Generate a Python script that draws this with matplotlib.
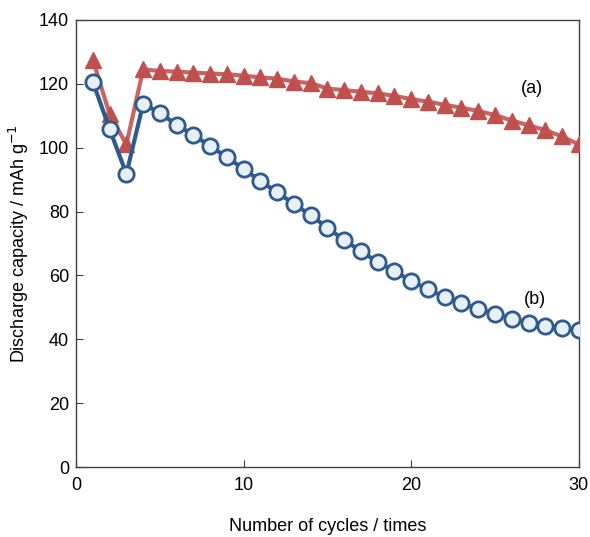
import matplotlib.pyplot as plt
import numpy as np

plt.rcParams['font.family'] = ['Liberation Sans', 'DejaVu Sans']

cycles = np.arange(1, 31)
cap_a = [127.5, 110.5, 101.0, 124.5, 124.0, 123.8, 123.5, 123.2, 123.0, 122.5,
         122.0, 121.6, 120.7, 120.2, 118.5, 118.0, 117.5, 117.0, 116.2, 115.2,
         114.4, 113.4, 112.5, 111.5, 110.2, 108.5, 107.0, 105.5, 103.5, 101.0]
cap_b = [120.6, 105.8, 91.8, 113.7, 110.9, 107.1, 104.0, 100.5, 97.0, 93.3,
         89.6, 86.0, 82.4, 78.9, 74.9, 71.1, 67.6, 64.2, 61.4, 58.2,
         55.7, 53.2, 51.4, 49.5, 47.9, 46.4, 45.1, 44.2, 43.5, 42.9]

fig = plt.figure(figsize=(5.9, 5.37), dpi=100)
ax = fig.add_axes([0.129, 0.130, 0.852, 0.833])

ax.plot(cycles, cap_a, color='#c86464', lw=3, marker='^', ms=12,
        mfc='#c0504d', mec='#c0504d', zorder=3)
ax.plot(cycles, cap_b, color='#2e5b8e', lw=3, marker='o', ms=11,
        mfc='#e9eff7', mec='#2e5b8e', mew=2, zorder=4)

ax.text(27.2, 118.4, '(a)', fontsize=13, ha='center', va='center')
ax.text(27.4, 52.6, '(b)', fontsize=13, ha='center', va='center')

ax.set_xlim(0, 30)
ax.set_ylim(0, 140)
ax.set_xticks([0, 10, 20, 30])
ax.set_yticks(np.arange(0, 141, 20))
ax.tick_params(direction='in', length=5, labelsize=13, colors='#404040',
               labelcolor='black')
ax.tick_params(axis='x', pad=7)
ax.tick_params(axis='y', pad=5)
for s in ax.spines.values():
    s.set_color('#404040')
    s.set_linewidth(1)

ax.set_xlabel('Number of cycles / times', fontsize=13, labelpad=17)
ax.set_ylabel('Discharge capacity / mAh g$^{-1}$', fontsize=13, labelpad=6)

fig.savefig('out.png', dpi=100)
